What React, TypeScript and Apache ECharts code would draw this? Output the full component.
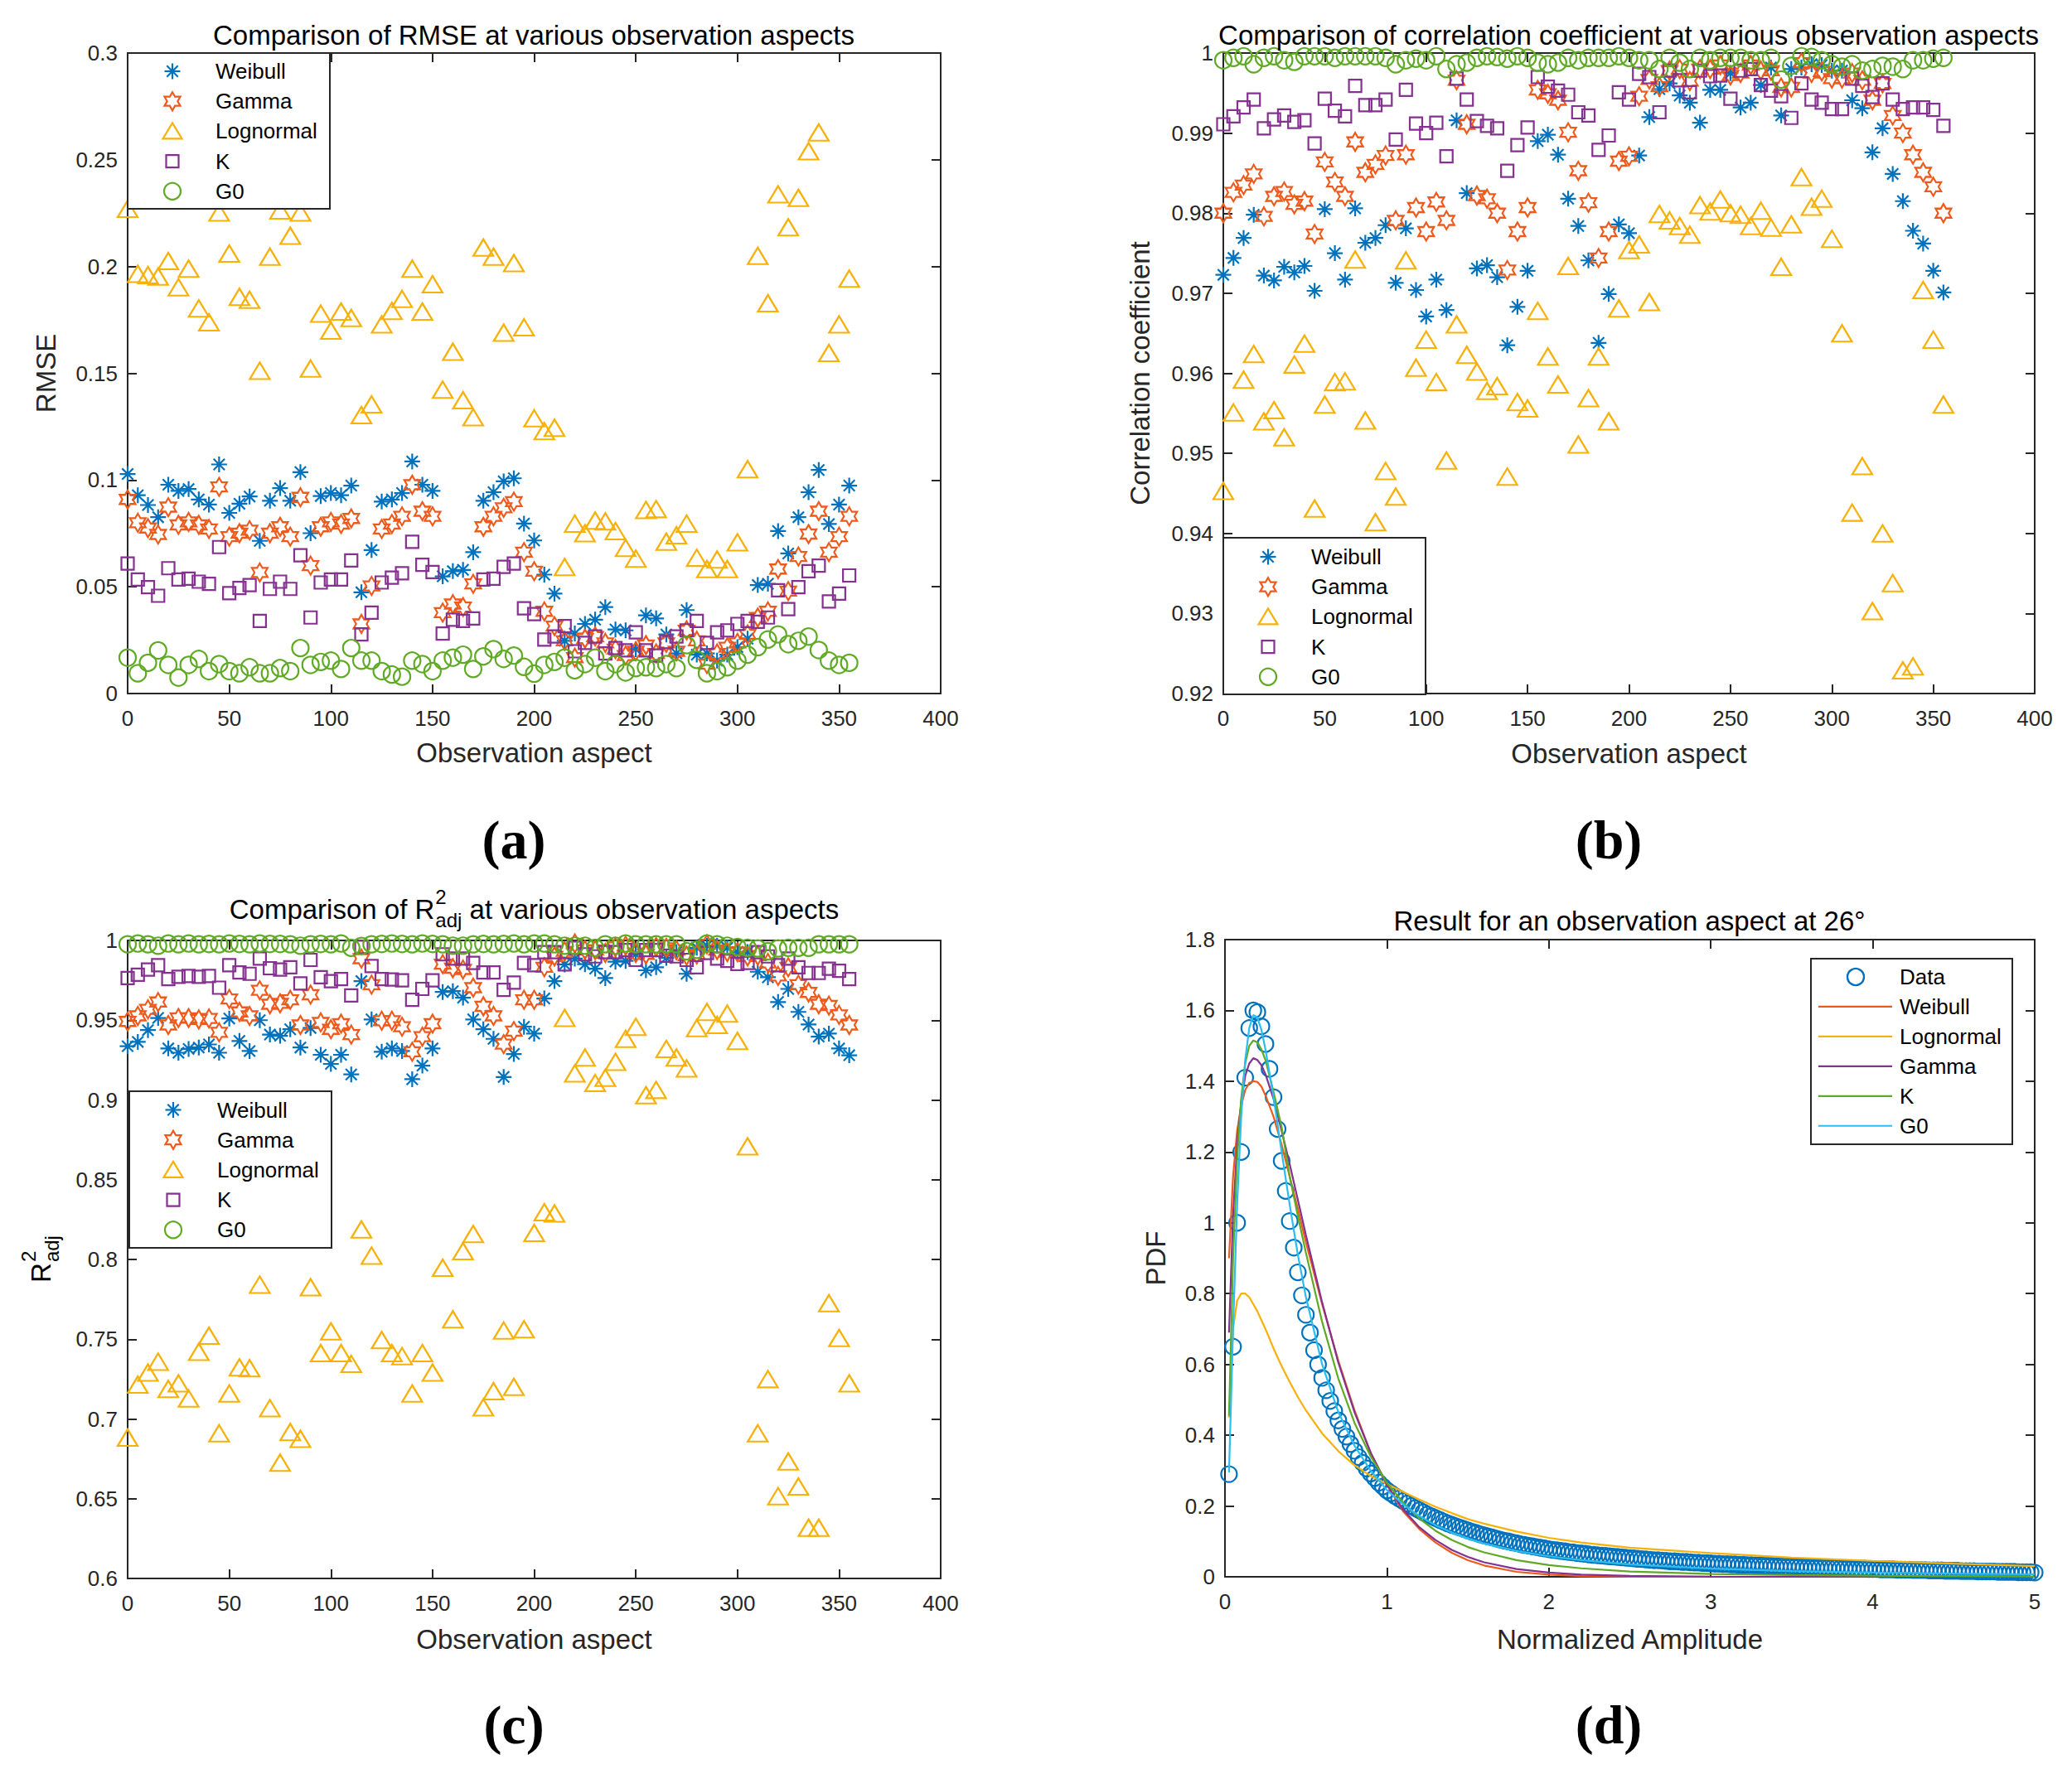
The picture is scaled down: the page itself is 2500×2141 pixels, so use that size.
import React, { useEffect, useRef } from 'react';
import * as echarts from 'echarts';

const W = 2500;
const H = 2141;
const FONT = '"Liberation Sans", Arial, Helvetica, sans-serif';
const SERIF = '"Liberation Serif", "Times New Roman", serif';
const AX = '#262626';

const BLUE = '#0072BD';
const ORANGE = '#EE5A1C';
const GOLD = '#F7B10A';
const PURPLE = '#85318F';
const GREEN = '#5FAA24';
const CYAN = '#2BBDEE';

// ---------- categories ----------
const ASPECTS = [0, 5, 10, 15, 20, 25, 30, 35, 40, 45, 50, 55, 60, 65, 70, 75, 80, 85, 90, 95, 100, 105, 110, 115, 120, 125, 130, 135, 140, 145, 150, 155, 160, 165, 170, 175, 180, 185, 190, 195, 200, 205, 210, 215, 220, 225, 230, 235, 240, 245, 250, 255, 260, 265, 270, 275, 280, 285, 290, 295, 300, 305, 310, 315, 320, 325, 330, 335, 340, 345, 350, 355];

// ---------- (a) RMSE ----------
const RMSE_WEIBULL = [0.1028, 0.0929, 0.0883, 0.0826, 0.0978, 0.0949, 0.0958, 0.0909, 0.0885, 0.1073, 0.0846, 0.0889, 0.0923, 0.0715, 0.0903, 0.0962, 0.0903, 0.1037, 0.0751, 0.0925, 0.0939, 0.0929, 0.0974, 0.0474, 0.0672, 0.0899, 0.0909, 0.0939, 0.1087, 0.0978, 0.0949, 0.0549, 0.0573, 0.0579, 0.0662, 0.0903, 0.0943, 0.0994, 0.1008, 0.0796, 0.0717, 0.0557, 0.0468, 0.0247, 0.0281, 0.0326, 0.0346, 0.0405, 0.0300, 0.0296, 0.0208, 0.0366, 0.0352, 0.0277, 0.0188, 0.0391, 0.0182, 0.0188, 0.0154, 0.0182, 0.0217, 0.0257, 0.0508, 0.0514, 0.0761, 0.0656, 0.0826, 0.0943, 0.1047, 0.0794, 0.0885, 0.0974];
const RMSE_GAMMA = [0.0909, 0.0800, 0.0775, 0.0745, 0.0873, 0.0790, 0.0804, 0.0790, 0.0771, 0.0968, 0.0735, 0.0751, 0.0765, 0.0567, 0.0751, 0.0781, 0.0735, 0.0919, 0.0599, 0.0781, 0.0804, 0.0794, 0.0820, 0.0326, 0.0504, 0.0771, 0.0794, 0.0830, 0.0978, 0.0854, 0.0830, 0.0379, 0.0419, 0.0405, 0.0514, 0.0781, 0.0830, 0.0870, 0.0899, 0.0662, 0.0573, 0.0385, 0.0316, 0.0247, 0.0168, 0.0257, 0.0267, 0.0237, 0.0208, 0.0178, 0.0198, 0.0227, 0.0188, 0.0237, 0.0198, 0.0296, 0.0247, 0.0138, 0.0188, 0.0217, 0.0237, 0.0277, 0.0356, 0.0385, 0.0583, 0.0480, 0.0642, 0.0747, 0.0854, 0.0662, 0.0735, 0.0830];
const RMSE_LOGNORMAL = [0.2270, 0.1966, 0.1960, 0.1953, 0.2026, 0.1903, 0.1990, 0.1804, 0.1739, 0.2253, 0.2061, 0.1858, 0.1844, 0.1512, 0.2046, 0.2263, 0.2144, 0.2253, 0.1522, 0.1779, 0.1700, 0.1789, 0.1759, 0.1304, 0.1354, 0.1729, 0.1792, 0.1848, 0.1990, 0.1789, 0.1917, 0.1423, 0.1601, 0.1374, 0.1294, 0.2089, 0.2046, 0.1690, 0.2016, 0.1715, 0.1289, 0.1229, 0.1245, 0.0593, 0.0796, 0.0751, 0.0810, 0.0806, 0.0761, 0.0682, 0.0632, 0.0860, 0.0864, 0.0711, 0.0741, 0.0796, 0.0636, 0.0583, 0.0628, 0.0583, 0.0708, 0.1051, 0.2050, 0.1828, 0.2338, 0.2184, 0.2322, 0.2540, 0.2628, 0.1595, 0.1729, 0.1943];
const RMSE_K = [0.0609, 0.0534, 0.0498, 0.0458, 0.0587, 0.0534, 0.0538, 0.0524, 0.0514, 0.0686, 0.0470, 0.0494, 0.0508, 0.0340, 0.0490, 0.0524, 0.0490, 0.0648, 0.0356, 0.0520, 0.0534, 0.0534, 0.0623, 0.0277, 0.0379, 0.0520, 0.0543, 0.0563, 0.0711, 0.0603, 0.0569, 0.0281, 0.0346, 0.0340, 0.0352, 0.0534, 0.0538, 0.0593, 0.0609, 0.0399, 0.0372, 0.0253, 0.0267, 0.0316, 0.0198, 0.0237, 0.0267, 0.0188, 0.0213, 0.0202, 0.0287, 0.0202, 0.0178, 0.0241, 0.0267, 0.0296, 0.0340, 0.0237, 0.0287, 0.0296, 0.0326, 0.0340, 0.0336, 0.0356, 0.0484, 0.0395, 0.0498, 0.0573, 0.0599, 0.0431, 0.0468, 0.0553];
const RMSE_G0 = [0.0168, 0.0095, 0.0144, 0.0202, 0.0134, 0.0075, 0.0134, 0.0162, 0.0105, 0.0138, 0.0105, 0.0095, 0.0123, 0.0095, 0.0095, 0.0119, 0.0105, 0.0213, 0.0134, 0.0148, 0.0154, 0.0115, 0.0213, 0.0154, 0.0154, 0.0105, 0.0089, 0.0079, 0.0154, 0.0138, 0.0105, 0.0154, 0.0168, 0.0182, 0.0115, 0.0174, 0.0208, 0.0162, 0.0178, 0.0125, 0.0093, 0.0134, 0.0148, 0.0168, 0.0109, 0.0138, 0.0168, 0.0105, 0.0138, 0.0099, 0.0119, 0.0123, 0.0119, 0.0138, 0.0119, 0.0227, 0.0158, 0.0095, 0.0105, 0.0123, 0.0154, 0.0182, 0.0217, 0.0253, 0.0277, 0.0231, 0.0247, 0.0267, 0.0204, 0.0154, 0.0134, 0.0144];

// ---------- (b) correlation coefficient ----------
const CC_WEIBULL = [0.9723, 0.9744, 0.9769, 0.9798, 0.9722, 0.9716, 0.9733, 0.9726, 0.9734, 0.9703, 0.9805, 0.9750, 0.9717, 0.9806, 0.9763, 0.9769, 0.9785, 0.9713, 0.9781, 0.9704, 0.9671, 0.9717, 0.9679, 0.9916, 0.9825, 0.9731, 0.9735, 0.9720, 0.9635, 0.9683, 0.9728, 0.9890, 0.9898, 0.9873, 0.9818, 0.9784, 0.9741, 0.9638, 0.9699, 0.9786, 0.9775, 0.9872, 0.9920, 0.9955, 0.9962, 0.9947, 0.9938, 0.9913, 0.9954, 0.9954, 0.9975, 0.9932, 0.9938, 0.9960, 0.9982, 0.9922, 0.9980, 0.9982, 0.9986, 0.9985, 0.9978, 0.9978, 0.9941, 0.9931, 0.9876, 0.9906, 0.9849, 0.9815, 0.9778, 0.9762, 0.9728, 0.9701];
const CC_GAMMA = [0.9800, 0.9826, 0.9835, 0.9849, 0.9796, 0.9821, 0.9827, 0.9811, 0.9815, 0.9774, 0.9864, 0.9839, 0.9821, 0.9889, 0.9851, 0.9861, 0.9872, 0.9791, 0.9873, 0.9807, 0.9777, 0.9814, 0.9791, 0.9966, 0.9911, 0.9822, 0.9818, 0.9800, 0.9729, 0.9777, 0.9807, 0.9954, 0.9949, 0.9941, 0.9901, 0.9853, 0.9813, 0.9744, 0.9777, 0.9865, 0.9871, 0.9946, 0.9967, 0.9958, 0.9978, 0.9980, 0.9965, 0.9980, 0.9980, 0.9985, 0.9972, 0.9975, 0.9985, 0.9978, 0.9978, 0.9957, 0.9957, 0.9988, 0.9975, 0.9977, 0.9968, 0.9968, 0.9975, 0.9966, 0.9941, 0.9962, 0.9922, 0.9900, 0.9873, 0.9851, 0.9833, 0.9800];
const CC_LOGNORMAL = [0.9453, 0.9551, 0.9592, 0.9624, 0.9540, 0.9554, 0.9520, 0.9611, 0.9637, 0.9431, 0.9561, 0.9589, 0.9590, 0.9742, 0.9541, 0.9414, 0.9478, 0.9446, 0.9741, 0.9607, 0.9642, 0.9589, 0.9491, 0.9661, 0.9623, 0.9602, 0.9578, 0.9584, 0.9471, 0.9564, 0.9556, 0.9678, 0.9621, 0.9586, 0.9734, 0.9511, 0.9569, 0.9621, 0.9540, 0.9681, 0.9754, 0.9761, 0.9689, 0.9799, 0.9791, 0.9784, 0.9773, 0.9810, 0.9802, 0.9817, 0.9800, 0.9798, 0.9784, 0.9803, 0.9782, 0.9733, 0.9786, 0.9845, 0.9808, 0.9818, 0.9768, 0.9650, 0.9426, 0.9484, 0.9303, 0.9400, 0.9338, 0.9229, 0.9234, 0.9704, 0.9642, 0.9561];
const CC_K = [0.9911, 0.9921, 0.9932, 0.9942, 0.9906, 0.9917, 0.9922, 0.9914, 0.9916, 0.9887, 0.9943, 0.9928, 0.9921, 0.9959, 0.9935, 0.9935, 0.9942, 0.9892, 0.9954, 0.9912, 0.9900, 0.9913, 0.9871, 0.9968, 0.9942, 0.9915, 0.9909, 0.9906, 0.9853, 0.9885, 0.9907, 0.9970, 0.9958, 0.9953, 0.9948, 0.9926, 0.9922, 0.9879, 0.9897, 0.9951, 0.9942, 0.9974, 0.9970, 0.9926, 0.9978, 0.9966, 0.9951, 0.9978, 0.9971, 0.9972, 0.9943, 0.9978, 0.9980, 0.9960, 0.9953, 0.9946, 0.9919, 0.9962, 0.9942, 0.9938, 0.9930, 0.9930, 0.9968, 0.9959, 0.9945, 0.9962, 0.9942, 0.9930, 0.9932, 0.9932, 0.9929, 0.9909];
const CC_G0 = [0.9991, 0.9994, 0.9996, 0.9986, 0.9994, 0.9996, 0.9991, 0.9989, 0.9996, 0.9996, 0.9996, 0.9994, 0.9996, 0.9996, 0.9996, 0.9996, 0.9994, 0.9986, 0.9991, 0.9993, 0.9991, 0.9996, 0.9980, 0.9986, 0.9988, 0.9994, 0.9996, 0.9995, 0.9993, 0.9996, 0.9994, 0.9988, 0.9986, 0.9988, 0.9994, 0.9991, 0.9994, 0.9994, 0.9994, 0.9996, 0.9994, 0.9991, 0.9991, 0.9980, 0.9994, 0.9988, 0.9980, 0.9994, 0.9991, 0.9994, 0.9994, 0.9994, 0.9991, 0.9991, 0.9994, 0.9967, 0.9984, 0.9996, 0.9995, 0.9991, 0.9986, 0.9983, 0.9986, 0.9978, 0.9980, 0.9984, 0.9983, 0.9980, 0.9991, 0.9991, 0.9993, 0.9994];

// ---------- (c) adjusted R^2 ----------
const R2_WEIBULL = [0.9337, 0.9364, 0.9438, 0.9514, 0.9323, 0.9296, 0.9320, 0.9329, 0.9348, 0.9296, 0.9511, 0.9370, 0.9307, 0.9500, 0.9410, 0.9402, 0.9443, 0.9329, 0.9451, 0.9283, 0.9226, 0.9283, 0.9160, 0.9745, 0.9505, 0.9302, 0.9323, 0.9307, 0.9130, 0.9215, 0.9323, 0.9677, 0.9682, 0.9641, 0.9505, 0.9443, 0.9383, 0.9144, 0.9288, 0.9459, 0.9416, 0.9636, 0.9745, 0.9850, 0.9886, 0.9851, 0.9823, 0.9764, 0.9867, 0.9872, 0.9913, 0.9813, 0.9832, 0.9891, 0.9927, 0.9791, 0.9954, 0.9967, 0.9967, 0.9954, 0.9927, 0.9927, 0.9804, 0.9769, 0.9614, 0.9696, 0.9552, 0.9473, 0.9397, 0.9416, 0.9323, 0.9280];
const R2_GAMMA = [0.9492, 0.9527, 0.9568, 0.9614, 0.9470, 0.9514, 0.9514, 0.9505, 0.9511, 0.9424, 0.9633, 0.9552, 0.9527, 0.9688, 0.9600, 0.9606, 0.9628, 0.9470, 0.9660, 0.9486, 0.9443, 0.9478, 0.9410, 0.9886, 0.9723, 0.9497, 0.9497, 0.9459, 0.9302, 0.9397, 0.9478, 0.9851, 0.9826, 0.9818, 0.9704, 0.9587, 0.9527, 0.9350, 0.9432, 0.9628, 0.9628, 0.9832, 0.9900, 0.9932, 0.9981, 0.9940, 0.9940, 0.9921, 0.9959, 0.9967, 0.9921, 0.9913, 0.9959, 0.9954, 0.9940, 0.9905, 0.9913, 0.9976, 0.9940, 0.9927, 0.9927, 0.9900, 0.9905, 0.9859, 0.9777, 0.9832, 0.9723, 0.9674, 0.9600, 0.9592, 0.9533, 0.9470];
const R2_LOGNORMAL = [0.6883, 0.7215, 0.7291, 0.7359, 0.7188, 0.7223, 0.7128, 0.7421, 0.7522, 0.6910, 0.7160, 0.7323, 0.7318, 0.7842, 0.7068, 0.6726, 0.6918, 0.6875, 0.7826, 0.7413, 0.7549, 0.7413, 0.7345, 0.8188, 0.8024, 0.7495, 0.7413, 0.7394, 0.7160, 0.7413, 0.7291, 0.7948, 0.7625, 0.8052, 0.8160, 0.7073, 0.7174, 0.7554, 0.7201, 0.7562, 0.8166, 0.8296, 0.8288, 0.9514, 0.9166, 0.9266, 0.9106, 0.9139, 0.9239, 0.9383, 0.9459, 0.9030, 0.9063, 0.9320, 0.9266, 0.9198, 0.9451, 0.9552, 0.9470, 0.9541, 0.9370, 0.8709, 0.6910, 0.7250, 0.6516, 0.6734, 0.6576, 0.6318, 0.6318, 0.7726, 0.7508, 0.7223];
const R2_K = [0.9764, 0.9785, 0.9818, 0.9845, 0.9758, 0.9772, 0.9777, 0.9772, 0.9777, 0.9704, 0.9845, 0.9799, 0.9791, 0.9886, 0.9826, 0.9818, 0.9832, 0.9731, 0.9878, 0.9769, 0.9745, 0.9758, 0.9655, 0.9959, 0.9840, 0.9758, 0.9755, 0.9750, 0.9628, 0.9696, 0.9750, 0.9913, 0.9886, 0.9886, 0.9859, 0.9799, 0.9799, 0.9690, 0.9736, 0.9859, 0.9845, 0.9927, 0.9927, 0.9850, 0.9954, 0.9913, 0.9900, 0.9927, 0.9927, 0.9940, 0.9878, 0.9940, 0.9940, 0.9905, 0.9900, 0.9878, 0.9832, 0.9921, 0.9886, 0.9872, 0.9853, 0.9859, 0.9927, 0.9900, 0.9845, 0.9886, 0.9832, 0.9796, 0.9796, 0.9823, 0.9810, 0.9758];
const R2_G0 = [0.9976, 0.9981, 0.9976, 0.9967, 0.9981, 0.9976, 0.9981, 0.9976, 0.9978, 0.9976, 0.9981, 0.9978, 0.9976, 0.9981, 0.9978, 0.9978, 0.9976, 0.9967, 0.9976, 0.9978, 0.9976, 0.9981, 0.9954, 0.9965, 0.9976, 0.9978, 0.9981, 0.9978, 0.9976, 0.9981, 0.9978, 0.9976, 0.9967, 0.9967, 0.9976, 0.9978, 0.9976, 0.9978, 0.9981, 0.9976, 0.9981, 0.9981, 0.9976, 0.9967, 0.9967, 0.9967, 0.9954, 0.9976, 0.9967, 0.9981, 0.9976, 0.9976, 0.9976, 0.9976, 0.9976, 0.9932, 0.9941, 0.9981, 0.9976, 0.9967, 0.9959, 0.9954, 0.9950, 0.9932, 0.9950, 0.9954, 0.9954, 0.9954, 0.9976, 0.9976, 0.9976, 0.9976];

// ---------- (d) PDF at 26 degrees ----------
const AMPLITUDE = [
  0.025, 0.05, 0.075, 0.1, 0.125, 0.15, 0.175, 0.2, 0.225, 0.25,
  0.275, 0.3, 0.325, 0.35, 0.375, 0.4, 0.425, 0.45, 0.475, 0.5,
  0.525, 0.55, 0.575, 0.6, 0.625, 0.65, 0.675, 0.7, 0.725, 0.75,
  0.775, 0.8, 0.825, 0.85, 0.875, 0.9, 0.925, 0.95, 0.975, 1,
  1.025, 1.05, 1.075, 1.1, 1.125, 1.15, 1.175, 1.2, 1.225, 1.25,
  1.275, 1.3, 1.325, 1.35, 1.375, 1.4, 1.425, 1.45, 1.475, 1.5,
  1.525, 1.55, 1.575, 1.6, 1.625, 1.65, 1.675, 1.7, 1.725, 1.75,
  1.775, 1.8, 1.825, 1.85, 1.875, 1.9, 1.925, 1.95, 1.975, 2,
  2.025, 2.05, 2.075, 2.1, 2.125, 2.15, 2.175, 2.2, 2.225, 2.25,
  2.275, 2.3, 2.325, 2.35, 2.375, 2.4, 2.425, 2.45, 2.475, 2.5,
  2.525, 2.55, 2.575, 2.6, 2.625, 2.65, 2.675, 2.7, 2.725, 2.75,
  2.775, 2.8, 2.825, 2.85, 2.875, 2.9, 2.925, 2.95, 2.975, 3,
  3.025, 3.05, 3.075, 3.1, 3.125, 3.15, 3.175, 3.2, 3.225, 3.25,
  3.275, 3.3, 3.325, 3.35, 3.375, 3.4, 3.425, 3.45, 3.475, 3.5,
  3.525, 3.55, 3.575, 3.6, 3.625, 3.65, 3.675, 3.7, 3.725, 3.75,
  3.775, 3.8, 3.825, 3.85, 3.875, 3.9, 3.925, 3.95, 3.975, 4,
  4.025, 4.05, 4.075, 4.1, 4.125, 4.15, 4.175, 4.2, 4.225, 4.25,
  4.275, 4.3, 4.325, 4.35, 4.375, 4.4, 4.425, 4.45, 4.475, 4.5,
  4.525, 4.55, 4.575, 4.6, 4.625, 4.65, 4.675, 4.7, 4.725, 4.75,
  4.775, 4.8, 4.825, 4.85, 4.875, 4.9, 4.925, 4.95, 4.975, 5,
];
const PDF_DATA = [
  0.29, 0.65, 1.0, 1.2, 1.41, 1.55, 1.6, 1.595, 1.555, 1.505,
  1.435, 1.355, 1.265, 1.175, 1.09, 1.005, 0.93, 0.86, 0.795, 0.74,
  0.69, 0.64, 0.6, 0.562, 0.527, 0.497, 0.468, 0.442, 0.418, 0.396,
  0.375, 0.356, 0.338, 0.322, 0.306, 0.292, 0.279, 0.266, 0.255, 0.244,
  0.236, 0.228, 0.221, 0.214, 0.207, 0.2, 0.194, 0.188, 0.182, 0.176,
  0.171, 0.166, 0.161, 0.156, 0.151, 0.147, 0.143, 0.139, 0.135, 0.131,
  0.127, 0.124, 0.12, 0.117, 0.114, 0.111, 0.108, 0.105, 0.102, 0.1,
  0.097, 0.095, 0.092, 0.09, 0.088, 0.086, 0.084, 0.082, 0.08, 0.078,
  0.076, 0.075, 0.073, 0.072, 0.07, 0.069, 0.067, 0.066, 0.065, 0.063,
  0.062, 0.061, 0.06, 0.059, 0.058, 0.057, 0.056, 0.055, 0.054, 0.053,
  0.052, 0.051, 0.05, 0.049, 0.048, 0.047, 0.047, 0.046, 0.045, 0.044,
  0.044, 0.043, 0.042, 0.042, 0.041, 0.04, 0.04, 0.039, 0.039, 0.038,
  0.037, 0.037, 0.036, 0.036, 0.035, 0.035, 0.034, 0.034, 0.033, 0.033,
  0.032, 0.032, 0.031, 0.031, 0.031, 0.03, 0.03, 0.029, 0.029, 0.029,
  0.028, 0.028, 0.027, 0.027, 0.027, 0.026, 0.026, 0.026, 0.025, 0.025,
  0.025, 0.024, 0.024, 0.024, 0.023, 0.023, 0.023, 0.023, 0.022, 0.022,
  0.022, 0.021, 0.021, 0.021, 0.021, 0.02, 0.02, 0.02, 0.02, 0.019,
  0.019, 0.019, 0.019, 0.018, 0.018, 0.018, 0.018, 0.017, 0.017, 0.017,
  0.017, 0.016, 0.016, 0.016, 0.016, 0.015, 0.015, 0.015, 0.015, 0.015,
  0.014, 0.014, 0.014, 0.014, 0.014, 0.013, 0.013, 0.013, 0.013, 0.012,
];
const CURVE_X = [0.025, 0.05, 0.075, 0.1, 0.125, 0.15, 0.175, 0.2, 0.225, 0.25, 0.3, 0.35, 0.4, 0.45, 0.5, 0.6, 0.7, 0.8, 0.9, 1.0, 1.1, 1.2, 1.3, 1.4, 1.5, 1.6, 1.8, 2.0, 2.2, 2.5, 3.0, 3.5, 4.0, 4.5, 5.0];
const FIT_WEIBULL = [0.9, 1.13, 1.26, 1.33, 1.375, 1.395, 1.4, 1.398, 1.385, 1.36, 1.3, 1.22, 1.13, 1.04, 0.945, 0.77, 0.61, 0.47, 0.35, 0.26, 0.185, 0.135, 0.097, 0.068, 0.047, 0.032, 0.014, 0.006, 0.002, 0.0005, 0, 0, 0, 0, 0];
const FIT_LOGNORMAL = [0.45, 0.7, 0.78, 0.8, 0.8, 0.79, 0.77, 0.75, 0.725, 0.7, 0.645, 0.595, 0.55, 0.508, 0.47, 0.405, 0.355, 0.315, 0.285, 0.262, 0.24, 0.218, 0.198, 0.18, 0.163, 0.15, 0.128, 0.11, 0.097, 0.082, 0.067, 0.054, 0.045, 0.037, 0.03];
const FIT_GAMMA = [0.69, 1.02, 1.22, 1.34, 1.415, 1.45, 1.465, 1.46, 1.445, 1.42, 1.35, 1.26, 1.165, 1.065, 0.965, 0.775, 0.605, 0.465, 0.35, 0.26, 0.19, 0.14, 0.104, 0.076, 0.056, 0.041, 0.022, 0.012, 0.006, 0.0025, 0.0005, 0, 0, 0, 0];
const FIT_K = [0.455, 0.9, 1.18, 1.35, 1.45, 1.5, 1.515, 1.51, 1.49, 1.46, 1.37, 1.27, 1.13, 1.02, 0.915, 0.72, 0.56, 0.435, 0.34, 0.265, 0.21, 0.165, 0.13, 0.104, 0.084, 0.069, 0.047, 0.033, 0.024, 0.015, 0.008, 0.005, 0.003, 0.002, 0.001];
const FIT_G0 = [0.295, 0.7, 1.05, 1.3, 1.46, 1.55, 1.587, 1.58, 1.545, 1.49, 1.355, 1.2, 1.05, 0.91, 0.79, 0.6, 0.465, 0.37, 0.3, 0.245, 0.205, 0.172, 0.146, 0.125, 0.108, 0.094, 0.073, 0.058, 0.047, 0.035, 0.023, 0.016, 0.012, 0.009, 0.007];

// ---------- texts ----------
const TITLE_A = 'Comparison of RMSE at various observation aspects';
const TITLE_B = 'Comparison of correlation coefficient at various observation aspects';
const TITLE_D = 'Result for an observation aspect at 26°';
const LEGEND_ABC = ['Weibull', 'Gamma', 'Lognormal', 'K', 'G0'];
const LEGEND_D = ['Data', 'Weibull', 'Lognormal', 'Gamma', 'K', 'G0'];

// ---------- markers ----------
const ASTERISK = 'path://M0,-10L0,10M-10,0L10,0M-7.07,-7.07L7.07,7.07M-7.07,7.07L7.07,-7.07';
const HEXAGRAM = 'path://M0,-10L2.887,-5L8.66,-5L5.774,0L8.66,5L2.887,5L0,10L-2.887,5L-8.66,5L-5.774,0L-8.66,-5L-2.887,-5Z';
const TRIANGLE = 'path://M0,-10L11.5,9L-11.5,9Z';

const MARKERS: Record<string, any> = {
  Weibull: { symbol: ASTERISK, size: 19, color: BLUE, icon: 'asterisk' },
  Gamma: { symbol: HEXAGRAM, size: [19, 22], color: ORANGE, icon: 'hexagram' },
  Lognormal: { symbol: TRIANGLE, size: [24, 20], color: GOLD, icon: 'triangle' },
  K: { symbol: 'rect', size: 15, color: PURPLE, icon: 'square' },
  G0: { symbol: 'circle', size: 20, color: GREEN, icon: 'circle' },
};

let measureCtx: any = null;
function textW(t: string, size: number): number {
  if (!measureCtx) {
    const c = document.createElement('canvas');
    measureCtx = c.getContext('2d');
  }
  if (!measureCtx) return t.length * size * 0.55;
  measureCtx.font = `${size}px "Liberation Sans", Arial, sans-serif`;
  return measureCtx.measureText(t).width;
}

const fmt = (v: number) => String(Math.round(v * 10000) / 10000);

function axisPair(kind: 'x' | 'y', gridIndex: number, min: number, max: number, interval: number, name: string, nameGap: number) {
  const line = { show: true, onZero: false, lineStyle: { color: AX, width: 2 } };
  const tick = { show: true, inside: true, length: 11, lineStyle: { color: AX, width: 2 } };
  const main: any = {
    type: 'value', gridIndex, min, max, interval,
    position: kind === 'x' ? 'bottom' : 'left',
    name, nameLocation: 'middle', nameGap, nameMoveOverlap: false,
    nameTextStyle: { color: AX, fontSize: 33, fontFamily: FONT },
    axisLine: line, axisTick: tick,
    axisLabel: { color: AX, fontSize: 26, fontFamily: FONT, margin: kind === 'x' ? 17 : 12, formatter: fmt, showMinLabel: true, showMaxLabel: true },
    splitLine: { show: false },
  };
  const twin: any = {
    type: 'value', gridIndex, min, max, interval,
    position: kind === 'x' ? 'top' : 'right',
    axisLine: line, axisTick: tick, axisLabel: { show: false }, splitLine: { show: false },
  };
  return [main, twin];
}

function scat(name: string, xs: number[], ys: number[], axisIdx: number, override?: any) {
  const m = override || MARKERS[name];
  return {
    type: 'scatter', name, xAxisIndex: axisIdx, yAxisIndex: axisIdx,
    data: xs.map((x, i) => [x, ys[i]]),
    symbol: m.symbol, symbolSize: m.size,
    itemStyle: { color: 'none', borderColor: m.color, borderWidth: 2.2, opacity: 1 },
    emphasis: { disabled: true }, silent: true, z: 3,
  };
}

function curve(name: string, ys: number[], color: string) {
  return {
    type: 'line', name, xAxisIndex: 6, yAxisIndex: 6,
    data: CURVE_X.map((x, i) => [x, ys[i]]),
    symbol: 'none', showSymbol: false, smooth: false,
    lineStyle: { color, width: 2.2 }, itemStyle: { color },
    emphasis: { disabled: true }, silent: true, z: 4,
  };
}

function txt(x: number, y: number, text: string, size: number, o: any = {}) {
  const align = o.align || 'center';
  return {
    type: 'text', x, y, z: 110,
    style: {
      text, fontSize: size, fontFamily: o.family || FONT, fontWeight: o.weight || 'normal', fill: o.fill || '#000',
      textAlign: align, align, textVerticalAlign: 'middle', verticalAlign: 'middle',
    },
  };
}

function iconEls(kind: string, cx: number, cy: number, color: string): any[] {
  const st = { fill: 'none', stroke: color, lineWidth: 2.2 };
  if (kind === 'asterisk') {
    return [[-9.5, 0, 9.5, 0], [0, -9.5, 0, 9.5], [-6.7, -6.7, 6.7, 6.7], [-6.7, 6.7, 6.7, -6.7]].map((s) => ({
      type: 'line', z: 111, shape: { x1: cx + s[0], y1: cy + s[1], x2: cx + s[2], y2: cy + s[3] }, style: { stroke: color, lineWidth: 2.2 },
    }));
  }
  if (kind === 'hexagram') {
    const pts: number[][] = [];
    for (let k = 0; k < 12; k++) {
      const ang = ((-90 + 30 * k) * Math.PI) / 180;
      const r = k % 2 === 0 ? 11 : 11 / Math.sqrt(3);
      pts.push([cx + r * Math.cos(ang), cy + r * Math.sin(ang)]);
    }
    return [{ type: 'polygon', z: 111, shape: { points: pts }, style: st }];
  }
  if (kind === 'triangle') {
    return [{ type: 'polygon', z: 111, shape: { points: [[cx, cy - 10], [cx + 11.5, cy + 9], [cx - 11.5, cy + 9]] }, style: st }];
  }
  if (kind === 'square') {
    return [{ type: 'rect', z: 111, shape: { x: cx - 7.5, y: cy - 7.5, width: 15, height: 15 }, style: st }];
  }
  if (kind === 'circle') {
    return [{ type: 'circle', z: 111, shape: { cx, cy, r: 10 }, style: st }];
  }
  return [];
}

function scatterLegend(x0: number, y0: number, w: number, h: number, row0: number, step: number, iconX: number, textX: number) {
  const els: any[] = [{ type: 'rect', z: 105, shape: { x: x0, y: y0, width: w, height: h }, style: { fill: '#fff', stroke: AX, lineWidth: 2 } }];
  LEGEND_ABC.forEach((name, k) => {
    const cy = row0 + k * step;
    const m = MARKERS[name];
    els.push(...iconEls(m.icon, iconX, cy, m.color));
    els.push(txt(textX, cy, name, 26, { align: 'left' }));
  });
  return els;
}

function lineLegend() {
  const x0 = 2185, y0 = 1157, w = 243, h = 224;
  const colors = [BLUE, ORANGE, GOLD, PURPLE, GREEN, CYAN];
  const els: any[] = [{ type: 'rect', z: 105, shape: { x: x0, y: y0, width: w, height: h }, style: { fill: '#fff', stroke: AX, lineWidth: 2 } }];
  LEGEND_D.forEach((name, k) => {
    const cy = 1179 + k * 35.95;
    if (k === 0) {
      els.push({ type: 'circle', z: 111, shape: { cx: 2239, cy, r: 10 }, style: { fill: 'none', stroke: colors[k], lineWidth: 2.4 } });
    } else {
      els.push({ type: 'line', z: 111, shape: { x1: 2194, y1: cy, x2: 2283, y2: cy }, style: { stroke: colors[k], lineWidth: 2.2 } });
    }
    els.push(txt(2292, cy, name, 26, { align: 'left' }));
  });
  return els;
}

// text with stacked superscript / subscript after mainA
function supSub(cx: number, cy: number, rotation: number, mainA: string, sup: string, sub: string, mainB: string, big: number, small: number, supDy: number, subDy: number) {
  const wA = textW(mainA, big);
  const wS = Math.max(textW(sup, small), textW(sub, small));
  const wB = mainB ? textW(mainB, big) : 0;
  const x0 = -(wA + wS + wB) / 2;
  const children: any[] = [
    txt(x0, 0, mainA, big, { align: 'left' }),
    txt(x0 + wA + 1, supDy, sup, small, { align: 'left' }),
    txt(x0 + wA + 1, subDy, sub, small, { align: 'left' }),
  ];
  if (mainB) children.push(txt(x0 + wA + wS + 1, 0, mainB, big, { align: 'left' }));
  return { type: 'group', x: cx, y: cy, rotation, z: 110, children };
}

function buildOption() {
  const xA = axisPair('x', 0, 0, 400, 50, 'Observation aspect', 55);
  const yA = axisPair('y', 0, 0, 0.3, 0.05, 'RMSE', 82);
  const xB = axisPair('x', 1, 0, 400, 50, 'Observation aspect', 56);
  const yB = axisPair('y', 1, 0.92, 1, 0.01, 'Correlation coefficient', 84);
  const xC = axisPair('x', 2, 0, 400, 50, 'Observation aspect', 57);
  const yC = axisPair('y', 2, 0.6, 1, 0.05, '', 80);
  const xD = axisPair('x', 3, 0, 5, 1, 'Normalized Amplitude', 59);
  const yD = axisPair('y', 3, 0, 1.8, 0.2, 'PDF', 67);

  const series: any[] = [];
  const panels = [
    { idx: 0, vals: [RMSE_WEIBULL, RMSE_GAMMA, RMSE_LOGNORMAL, RMSE_K, RMSE_G0] },
    { idx: 2, vals: [CC_WEIBULL, CC_GAMMA, CC_LOGNORMAL, CC_K, CC_G0] },
    { idx: 4, vals: [R2_WEIBULL, R2_GAMMA, R2_LOGNORMAL, R2_K, R2_G0] },
  ];
  panels.forEach((p) => {
    LEGEND_ABC.forEach((name, k) => series.push(scat(name, ASPECTS, p.vals[k], p.idx)));
  });
  series.push(scat('Data', AMPLITUDE, PDF_DATA, 6, { symbol: 'circle', size: 19, color: BLUE }));
  series.push(curve('Weibull', FIT_WEIBULL, ORANGE));
  series.push(curve('Lognormal', FIT_LOGNORMAL, GOLD));
  series.push(curve('Gamma', FIT_GAMMA, PURPLE));
  series.push(curve('K', FIT_K, GREEN));
  series.push(curve('G0', FIT_G0, CYAN));

  const graphics: any[] = [
    txt(644, 42, TITLE_A, 33),
    txt(1965, 42, TITLE_B, 33),
    supSub(644, 1097, 0, 'Comparison of R', '2', 'adj', ' at various observation aspects', 33, 24, -15, 13),
    txt(1966, 1111, TITLE_D, 33),
    supSub(49, 1520, Math.PI / 2, 'R', '2', 'adj', '', 33, 24, -15, 13),
    txt(620, 1013, '(a)', 66, { family: SERIF, weight: 'bold' }),
    txt(1941, 1013, '(b)', 66, { family: SERIF, weight: 'bold' }),
    txt(620, 2081, '(c)', 66, { family: SERIF, weight: 'bold' }),
    txt(1941, 2081, '(d)', 66, { family: SERIF, weight: 'bold' }),
    ...scatterLegend(154, 64, 244, 188, 86, 36.2, 208, 260),
    ...scatterLegend(1476, 649, 244, 189, 672, 36.2, 1530, 1582),
    ...scatterLegend(156, 1317, 244, 189, 1339.5, 36.2, 209, 262),
    ...lineLegend(),
  ];

  const gridBase = { show: false, containLabel: false, outerBoundsMode: 'none' };
  return {
    animation: false,
    backgroundColor: '#ffffff',
    textStyle: { fontFamily: FONT },
    grid: [
      { ...gridBase, left: 154, top: 64, width: 981, height: 773 },
      { ...gridBase, left: 1476, top: 64, width: 979, height: 773 },
      { ...gridBase, left: 154, top: 1135, width: 981, height: 770 },
      { ...gridBase, left: 1478, top: 1134, width: 977, height: 769 },
    ],
    xAxis: [...xA, ...xB, ...xC, ...xD],
    yAxis: [...yA, ...yB, ...yC, ...yD],
    series,
    graphic: { elements: graphics },
  };
}

export default function App() {
  const ref = useRef<HTMLDivElement>(null);
  useEffect(() => {
    if (!ref.current) return;
    const chart = echarts.init(ref.current, null, { renderer: 'svg' });
    chart.setOption(buildOption() as any);
    return () => chart.dispose();
  }, []);
  return (
    <div
      ref={ref}
      style={{ position: 'absolute', left: 0, top: 0, width: W, height: H, background: '#fff' }}
    />
  );
}
